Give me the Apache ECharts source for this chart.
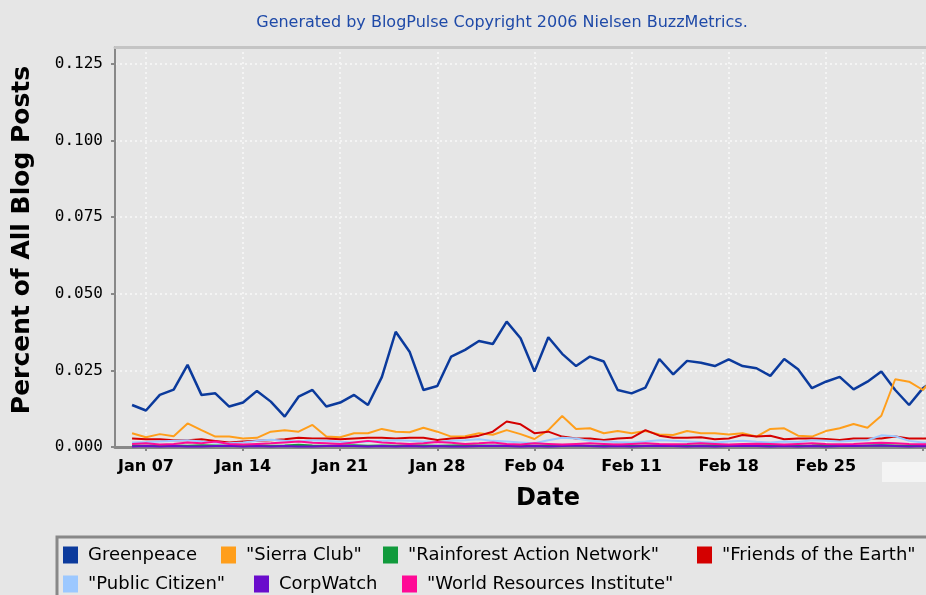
<!DOCTYPE html>
<html>
<head>
<meta charset="utf-8">
<title>BlogPulse trend</title>
<script src="https://cdn.jsdelivr.net/npm/echarts@6/dist/echarts.min.js"></script>
<style>
  html, body { margin: 0; padding: 0; background: #e6e6e6; }
  #myChart { width: 926px; height: 595px; }
</style>
</head>
<body>
<div id="myChart"></div>
<script>
// percent of all blog posts, one value per day starting Jan 06
var greenpeace = [
  0.0137, 0.0119, 0.0170, 0.0187, 0.0268, 0.0170, 0.0175, 0.0132, 0.0145, 0.0183,
  0.0148, 0.0099, 0.0164, 0.0186, 0.0132, 0.0145, 0.0170, 0.0137, 0.0228, 0.0376,
  0.0311, 0.0186, 0.0199, 0.0295, 0.0317, 0.0346, 0.0336, 0.0409, 0.0355, 0.0246,
  0.0358, 0.0304, 0.0264, 0.0295, 0.0279, 0.0186, 0.0175, 0.0194, 0.0287, 0.0237,
  0.0281, 0.0275, 0.0264, 0.0286, 0.0264, 0.0257, 0.0232, 0.0287, 0.0254, 0.0192,
  0.0213, 0.0229, 0.0188, 0.0213, 0.0246, 0.0186, 0.0137, 0.0192, 0.0225
]
var sierraClub = [
  0.0045, 0.0032, 0.0042, 0.0035, 0.0077, 0.0055, 0.0034, 0.0034, 0.0028, 0.0030,
  0.0050, 0.0055, 0.0050, 0.0072, 0.0034, 0.0032, 0.0045, 0.0045, 0.0059, 0.0050,
  0.0048, 0.0063, 0.0050, 0.0034, 0.0035, 0.0045, 0.0040, 0.0055, 0.0042, 0.0026,
  0.0055, 0.0101, 0.0059, 0.0061, 0.0045, 0.0052, 0.0045, 0.0052, 0.0041, 0.0039,
  0.0052, 0.0045, 0.0045, 0.0041, 0.0045, 0.0034, 0.0059, 0.0061, 0.0037, 0.0034,
  0.0052, 0.0061, 0.0075, 0.0063, 0.0102, 0.0221, 0.0213, 0.0186, 0.0240
]
var rainforest = [
  0.0005, 0.0004, 0.0006, 0.0005, 0.0004, 0.0006, 0.0005, 0.0004, 0.0005, 0.0006,
  0.0004, 0.0005, 0.0007, 0.0005, 0.0004, 0.0005, 0.0006, 0.0004, 0.0005, 0.0004,
  0.0006, 0.0005, 0.0004, 0.0005, 0.0006, 0.0005, 0.0004, 0.0005, 0.0006, 0.0004,
  0.0005, 0.0006, 0.0005, 0.0004, 0.0005, 0.0007, 0.0005, 0.0004, 0.0006, 0.0005,
  0.0004, 0.0005, 0.0006, 0.0005, 0.0004, 0.0005, 0.0006, 0.0005, 0.0004, 0.0005,
  0.0007, 0.0005, 0.0004, 0.0005, 0.0006, 0.0005, 0.0004, 0.0005, 0.0005
]
var friendsEarth = [
  0.0028, 0.0025, 0.0025, 0.0022, 0.0022, 0.0025, 0.0020, 0.0015, 0.0018, 0.0020,
  0.0022, 0.0025, 0.0030, 0.0028, 0.0028, 0.0025, 0.0028, 0.0030, 0.0030, 0.0028,
  0.0030, 0.0030, 0.0023, 0.0028, 0.0030, 0.0037, 0.0050, 0.0083, 0.0074, 0.0045,
  0.0050, 0.0034, 0.0028, 0.0028, 0.0023, 0.0028, 0.0030, 0.0055, 0.0037, 0.0030,
  0.0030, 0.0032, 0.0025, 0.0028, 0.0039, 0.0034, 0.0037, 0.0025, 0.0028, 0.0028,
  0.0026, 0.0023, 0.0028, 0.0028, 0.0028, 0.0034, 0.0028, 0.0028, 0.0028
]
var publicCitizen = [
  0.0015, 0.0016, 0.0018, 0.0020, 0.0022, 0.0018, 0.0015, 0.0012, 0.0015, 0.0020,
  0.0024, 0.0020, 0.0018, 0.0022, 0.0020, 0.0017, 0.0015, 0.0018, 0.0020, 0.0022,
  0.0020, 0.0018, 0.0016, 0.0020, 0.0022, 0.0025, 0.0020, 0.0018, 0.0015, 0.0012,
  0.0022, 0.0030, 0.0028, 0.0020, 0.0018, 0.0016, 0.0015, 0.0018, 0.0022, 0.0020,
  0.0018, 0.0016, 0.0015, 0.0018, 0.0020, 0.0017, 0.0015, 0.0018, 0.0016, 0.0022,
  0.0020, 0.0018, 0.0020, 0.0022, 0.0038, 0.0035, 0.0020, 0.0015, 0.0015
]
var corpWatch = [
  0.0002, 0.0003, 0.0002, 0.0003, 0.0002, 0.0002, 0.0003, 0.0004, 0.0002, 0.0003,
  0.0002, 0.0003, 0.0002, 0.0002, 0.0003, 0.0004, 0.0003, 0.0002, 0.0003, 0.0002,
  0.0003, 0.0002, 0.0003, 0.0002, 0.0002, 0.0003, 0.0004, 0.0003, 0.0002, 0.0003,
  0.0002, 0.0003, 0.0005, 0.0003, 0.0002, 0.0003, 0.0002, 0.0003, 0.0004, 0.0003,
  0.0002, 0.0003, 0.0002, 0.0003, 0.0004, 0.0003, 0.0002, 0.0003, 0.0002, 0.0003,
  0.0002, 0.0003, 0.0003, 0.0004, 0.0005, 0.0003, 0.0002, 0.0003, 0.0002
]
var worldResources = [
  0.0010, 0.0012, 0.0008, 0.0010, 0.0015, 0.0012, 0.0018, 0.0010, 0.0008, 0.0010,
  0.0012, 0.0015, 0.0018, 0.0014, 0.0012, 0.0010, 0.0015, 0.0020, 0.0015, 0.0012,
  0.0010, 0.0012, 0.0016, 0.0014, 0.0010, 0.0012, 0.0015, 0.0010, 0.0008, 0.0012,
  0.0010, 0.0008, 0.0010, 0.0012, 0.0010, 0.0008, 0.0010, 0.0012, 0.0010, 0.0009,
  0.0010, 0.0012, 0.0010, 0.0008, 0.0010, 0.0011, 0.0010, 0.0008, 0.0010, 0.0012,
  0.0010, 0.0009, 0.0010, 0.0012, 0.0014, 0.0012, 0.0010, 0.0009, 0.0010
]

var startDay = 6 // Jan 06 as day of year
var tickDays = [7, 14, 21, 28, 35, 42, 49, 56, 63]
var tickLabels = ['Jan 07', 'Jan 14', 'Jan 21', 'Jan 28', 'Feb 04', 'Feb 11', 'Feb 18', 'Feb 25', '']

var names = ['Greenpeace', '"Sierra Club"', '"Rainforest Action Network"', '"Friends of the Earth"',
  '"Public Citizen"', 'CorpWatch', '"World Resources Institute"']
var colors = ['#0b3a9c', '#ff9e1b', '#119a3c', '#d40000', '#9cc8ff', '#6a0ccc', '#ff0a96']
var values = [greenpeace, sierraClub, rainforest, friendsEarth, publicCitizen, corpWatch, worldResources]
// where each legend entry sits (left, top)
var legendSpots = [[63, 546], [221, 546], [383, 546], [697, 546], [63, 575], [254, 575], [402, 575]]

var xMin = 4.77
var xMax = 63.22

var myChart = echarts.init(document.getElementById('myChart'))

var series = values.map(function (arr, k) {
  return {
    name: names[k],
    type: 'line',
    data: arr.map(function (v, i) { return [startDay + i, v] }),
    showSymbol: false,
    lineStyle: { color: colors[k], width: k === 0 ? 2.5 : 2 },
    itemStyle: { color: colors[k] }
  }
})

var legends = names.map(function (n, k) {
  return {
    left: legendSpots[k][0],
    top: legendSpots[k][1],
    data: [n],
    icon: 'rect',
    itemWidth: 15,
    itemHeight: 17,
    padding: 0,
    textStyle: { color: '#000', fontSize: 18, fontFamily: 'DejaVu Sans', padding: [0, 0, 0, 5] }
  }
})

var option = {
  animation: false,
  backgroundColor: '#e6e6e6',
  title: {
    text: 'Generated by BlogPulse Copyright 2006 Nielsen BuzzMetrics.',
    left: 497,
    top: 10,
    textAlign: 'center',
    textStyle: { color: '#1f4aa8', fontSize: 16, fontWeight: 'normal', fontFamily: 'DejaVu Sans' }
  },
  legend: legends,
  grid: {
    left: 115,
    top: 47,
    right: 0,
    bottom: 148
  },
  xAxis: [
    {
      type: 'value',
      min: xMin,
      max: xMax,
      name: 'Date',
      nameLocation: 'middle',
      nameGap: 40,
      nameTextStyle: { fontSize: 24, fontWeight: 'bold', color: '#000', fontFamily: 'DejaVu Sans', padding: [0, 0, 0, 55] },
      axisLine: { lineStyle: { color: '#888', width: 3 } },
      axisTick: { customValues: tickDays, length: 4, lineStyle: { color: '#888', width: 2 } },
      axisLabel: {
        customValues: tickDays,
        margin: 12,
        color: '#000',
        fontSize: 16,
        fontWeight: 'bold',
        fontFamily: 'DejaVu Sans',
        formatter: function (v) { return tickLabels[tickDays.indexOf(Math.round(v))] || '' }
      },
      splitLine: { show: true, lineStyle: { color: '#f4f4f4', width: 2, type: [2, 3] } }
    },
    {
      // top frame of the plot
      type: 'value',
      position: 'top',
      min: xMin,
      max: xMax,
      axisLine: { show: true, onZero: false, lineStyle: { color: '#c4c4c4', width: 3 } },
      axisTick: { show: false },
      axisLabel: { show: false },
      splitLine: { show: false }
    }
  ],
  yAxis: {
    type: 'value',
    min: 0,
    max: 0.1305,
    interval: 0.025,
    name: 'Percent of All Blog Posts',
    nameLocation: 'middle',
    nameGap: 80,
    nameTextStyle: { fontSize: 25, fontWeight: 'bold', color: '#000', fontFamily: 'DejaVu Sans', padding: [0, 0, 0, 14] },
    axisLine: { show: true, lineStyle: { color: '#888', width: 2 } },
    axisTick: { show: true, length: 4, lineStyle: { color: '#888', width: 2 } },
    axisLabel: {
      margin: 12,
      color: '#000',
      fontSize: 16,
      fontFamily: 'DejaVu Sans Mono',
      showMaxLabel: false,
      formatter: function (v) { return v.toFixed(3) }
    },
    splitLine: { show: true, showMaxLine: false, lineStyle: { color: '#f4f4f4', width: 2, type: [2, 3] } }
  },
  graphic: [
    {
      type: 'rect',
      shape: { x: 57, y: 537, width: 1000, height: 100 },
      style: { fill: 'none', stroke: '#888', lineWidth: 3 },
      silent: true
    },
    {
      type: 'rect',
      shape: { x: 882, y: 462, width: 44, height: 20 },
      style: { fill: '#f4f4f4' },
      silent: true
    }
  ],
  series: series
}

myChart.setOption(option)
</script>
</body>
</html>
